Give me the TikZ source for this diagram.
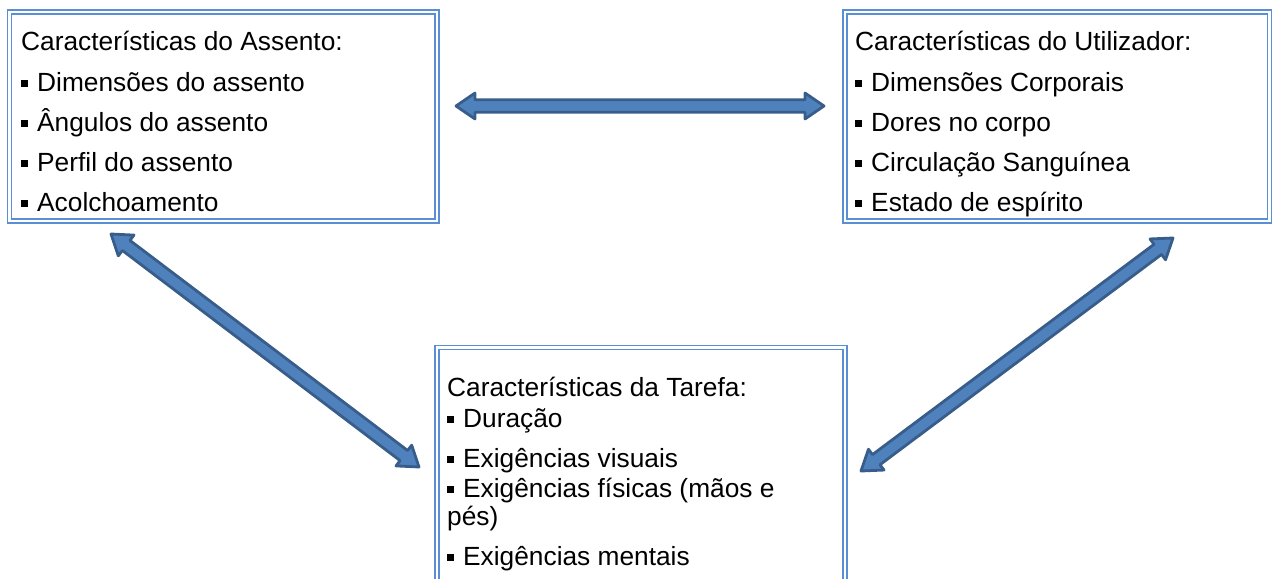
\documentclass[tikz,border=0pt]{standalone}
\usepackage{fontspec}
\setmainfont{Liberation Sans}
\usetikzlibrary{calc}
\definecolor{boxblue}{HTML}{5A8FD6}
\definecolor{arrfill}{HTML}{4F81BD}
\definecolor{arrline}{HTML}{385D8A}
\newcommand\bul{\rule[4pt]{7pt}{7pt}\hspace{9pt}}
\newcommand\dblarrow[2]{%
  \coordinate (hA) at ($(#1)!19pt!(#2)$);
  \coordinate (hB) at ($(#2)!19pt!(#1)$);
  \draw[arrow shape] (#1) -- ($(hA)!13pt!90:(#2)$) -- ($(hA)!6.3pt!90:(#2)$)
    -- ($(hB)!6.3pt!-90:(#1)$) -- ($(hB)!13pt!-90:(#1)$) -- (#2)
    -- ($(hB)!13pt!90:(#1)$) -- ($(hB)!6.3pt!90:(#1)$)
    -- ($(hA)!6.3pt!-90:(#2)$) -- ($(hA)!13pt!-90:(#2)$) -- cycle;}
\tikzset{
  panel/.style={draw=boxblue, double=white, line width=1.5pt, double distance=2.5pt,
    inner sep=0pt, outer sep=0pt, anchor=north west},
  txt/.style={anchor=base west, inner sep=0pt, font=\fontsize{26.3}{30}\selectfont},
  arrow shape/.style={fill=arrfill, draw=arrline, line width=2.8pt, line join=round}
}
\begin{document}
\begin{tikzpicture}[x=1pt, y=-1pt]
\useasboundingbox (0,0) rectangle (1273,578);
\clip (0,0) rectangle (1273,578);
% boxes
\node[panel, minimum width=427.5pt, minimum height=209pt] (A) at (9.5,12) {};
\node[panel, minimum width=424.7pt, minimum height=209pt] (U) at (845,12) {};
\node[panel, minimum width=408pt, minimum height=250pt] (T) at (437,347.5) {};
% left box text
\node[txt] (a0) at (21,51) {Características do Assento:};
\node[txt] (a1) at (21,91) {\bul Dimensões do assento};
\node[txt] (a2) at (21,131) {\bul Ângulos do assento};
\node[txt] (a3) at (21,171) {\bul Perfil do assento};
\node[txt] (a4) at (21,211) {\bul Acolchoamento};
% right box text
\node[txt] (u0) at (855,51) {Características do Utilizador:};
\node[txt] (u1) at (855,91) {\bul Dimensões Corporais};
\node[txt] (u2) at (855,131) {\bul Dores no corpo};
\node[txt] (u3) at (855,171) {\bul Circulação Sanguínea};
\node[txt] (u4) at (855,211) {\bul Estado de espírito};
% bottom box text
\node[txt] (t0) at (447,396) {Características da Tarefa:};
\node[txt] (t1) at (447,427) {\bul Duração};
\node[txt] (t2) at (447,467) {\bul Exigências visuais};
\node[txt] (t3) at (447,497) {\bul Exigências físicas (mãos e};
\node[txt] (t4) at (447,525) {pés)};
\node[txt] (t5) at (447,565) {\bul Exigências mentais};
% arrow end points
\coordinate (h1) at (456,106);
\coordinate (h2) at (824,106);
\coordinate (l1) at (111,234);
\coordinate (l2) at (419,467);
\coordinate (r1) at (1173,238);
\coordinate (r2) at (861,471);
\dblarrow{h1}{h2}
\dblarrow{l1}{l2}
\dblarrow{r1}{r2}
\end{tikzpicture}
\end{document}
